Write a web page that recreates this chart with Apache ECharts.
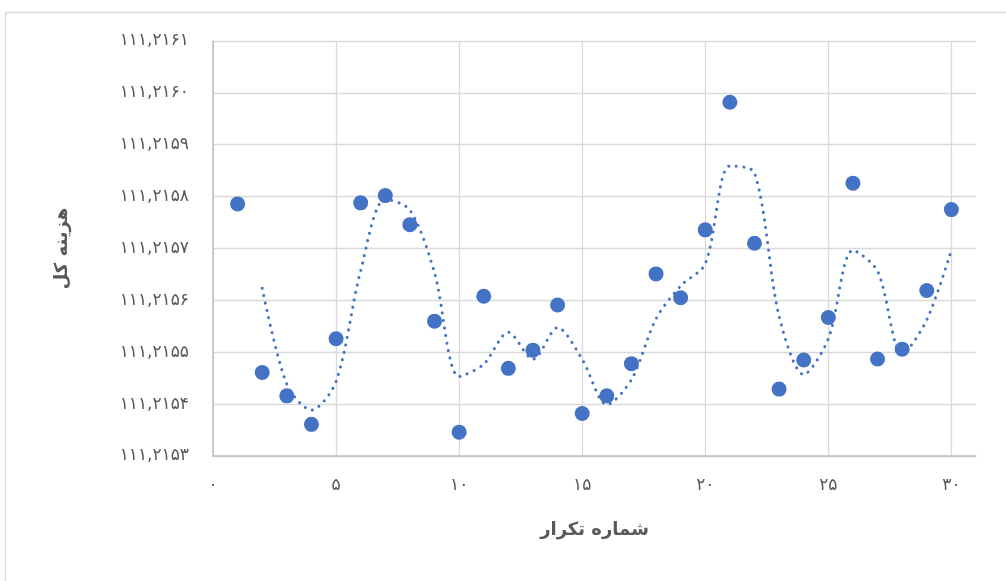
<!DOCTYPE html>
<html>
<head>
<meta charset="utf-8">
<script src="https://cdn.jsdelivr.net/npm/echarts@6/dist/echarts.min.js"></script>
<style>
  html, body { margin: 0; padding: 0; background: #fff; }
  #chart { width: 1006px; height: 581px; }
</style>
</head>
<body>
<div id="chart"></div>
<script>
// Iteration number and total cost per iteration
const iterations = [1, 2, 3, 4, 5, 6, 7, 8, 9, 10, 11, 12, 13, 14, 15,
                    16, 17, 18, 19, 20, 21, 22, 23, 24, 25, 26, 27, 28, 29, 30];
const totalCost = [
  111.215786, 111.215461, 111.215416, 111.215361, 111.215526,
  111.215788, 111.215802, 111.215746, 111.215560, 111.215346,
  111.215608, 111.215469, 111.215504, 111.215591, 111.215382,
  111.215416, 111.215478, 111.215651, 111.215605, 111.215736,
  111.215982, 111.215710, 111.215429, 111.215485, 111.215567,
  111.215826, 111.215487, 111.215506, 111.215619, 111.215775
];
const xAxisTitle = 'شماره تکرار';
const yAxisTitle = 'هزینه کل';

// Two-period moving average trendline
const maPeriod = 2;
const movingAvg = [];
for (let i = maPeriod - 1; i < totalCost.length; i++) {
  let s = 0;
  for (let k = 0; k < maPeriod; k++) s += totalCost[i - k];
  movingAvg.push([iterations[i], s / maPeriod]);
}

const persianDigits = '۰۱۲۳۴۵۶۷۸۹';
function toPersian(str) {
  return String(str).replace(/[0-9]/g, d => persianDigits[+d]);
}

const font = "'DejaVu Sans', sans-serif";
const labelColor = '#595959';
const gridColor = '#d9d9d9';
const axisColor = '#bfbfbf';
const blue = '#4472C4';

const chart = echarts.init(document.getElementById('chart'), null, { renderer: 'canvas' });
chart.setOption({
  animation: false,
  backgroundColor: '#ffffff',
  grid: { left: 213, right: 30, top: 41, bottom: 125, containLabel: false },
  graphic: [{
    type: 'rect',
    shape: { x: 5.5, y: 12.5, width: 1100, height: 700 },
    style: { fill: 'none', stroke: gridColor, lineWidth: 1.5 },
    silent: true
  }],
  xAxis: {
    type: 'value',
    min: 0, max: 31, interval: 5,
    name: xAxisTitle,
    nameLocation: 'middle',
    nameGap: 65,
    nameTextStyle: { fontFamily: font, fontSize: 18, fontWeight: 'bold', color: labelColor },
    axisLine: { show: true, lineStyle: { color: axisColor, width: 1.5 } },
    axisTick: { show: false },
    axisLabel: {
      margin: 21, fontFamily: font, fontSize: 17, color: labelColor,
      showMaxLabel: false,
      formatter: v => (v % 5 === 0 ? toPersian(v) : '')
    },
    splitLine: { show: true, showMaxLine: false, lineStyle: { color: gridColor, width: 1.3 } }
  },
  yAxis: {
    type: 'value',
    min: 111.2153, max: 111.2161, interval: 0.0001,
    name: yAxisTitle,
    nameLocation: 'middle',
    nameGap: 142,
    nameTextStyle: { fontFamily: font, fontSize: 18, fontWeight: 'bold', color: labelColor },
    axisLine: { show: true, lineStyle: { color: axisColor, width: 1.5 } },
    axisTick: { show: false },
    axisLabel: {
      margin: 24, fontFamily: font, fontSize: 17, color: labelColor,
      formatter: v => toPersian(v.toFixed(4).replace('.', ','))
    },
    splitLine: { show: true, lineStyle: { color: gridColor, width: 1.3 } }
  },
  series: [
    {
      type: 'line',
      data: movingAvg,
      smooth: 0.3,
      symbol: 'none',
      z: 1,
      lineStyle: { color: blue, width: 3, type: [0.1, 7.5], cap: 'round' }
    },
    {
      type: 'scatter',
      data: iterations.map((x, i) => [x, totalCost[i]]),
      symbol: 'circle',
      symbolSize: 15,
      z: 2,
      itemStyle: { color: blue, opacity: 1 }
    }
  ]
});
</script>
</body>
</html>
